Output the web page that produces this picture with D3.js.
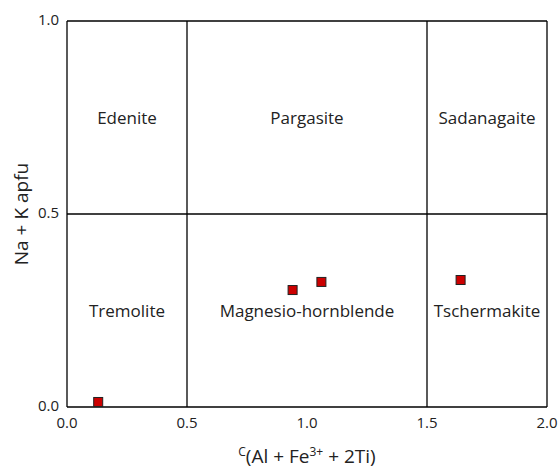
<!DOCTYPE html>
<html>
<head>
<meta charset="utf-8">
<script src="https://cdn.jsdelivr.net/npm/d3@7"></script>
<style>
  body { margin: 0; background: #fff; }
  text { font-family: "Open Sans", sans-serif; fill: #222; }
</style>
</head>
<body>
<script>
var width = 558,
	height = 470;

// boundaries of the classification fields
var xBounds = [0, 0.5, 1.5, 2.0],
	yBounds = [0, 0.5, 1.0];

var xTicks = [0, 0.5, 1.0, 1.5, 2.0],
	yTicks = [0, 0.5, 1.0];

// field names, row by row (upper row first)
var fieldNames = [
	['Edenite', 'Pargasite', 'Sadanagaite'],
	['Tremolite', 'Magnesio-hornblende', 'Tschermakite']
];

// analyses
var alFeTi = [0.13, 0.94, 1.06, 1.64],
	naK = [0.013, 0.303, 0.324, 0.329];

var margin = { top: 21, right: 11, bottom: 63, left: 67 };

var x = d3.scaleLinear()
	.domain([0, 2])
	.range([margin.left, width - margin.right]);

var y = d3.scaleLinear()
	.domain([0, 1])
	.range([height - margin.bottom, margin.top]);

var svg = d3.select('body')
	.append('svg')
	.attr('width', width)
	.attr('height', height);

// field boundaries
svg.append('g')
	.selectAll('line')
	.data(xBounds)
	.enter().append('line')
	.attr('x1', function(d) { return x(d); })
	.attr('x2', function(d) { return x(d); })
	.attr('y1', y(0))
	.attr('y2', y(1))
	.attr('stroke', '#000')
	.attr('stroke-width', 1.3);

svg.append('g')
	.selectAll('line')
	.data(yBounds)
	.enter().append('line')
	.attr('x1', x(0))
	.attr('x2', x(2))
	.attr('y1', function(d) { return y(d); })
	.attr('y2', function(d) { return y(d); })
	.attr('stroke', '#000')
	.attr('stroke-width', 1.3);

// tick labels
svg.append('g')
	.selectAll('text')
	.data(xTicks)
	.enter().append('text')
	.attr('x', function(d) { return x(d); })
	.attr('y', y(0) + 21)
	.attr('text-anchor', 'middle')
	.attr('font-size', 15)
	.text(function(d) { return d.toFixed(1); });

svg.append('g')
	.selectAll('text')
	.data(yTicks)
	.enter().append('text')
	.attr('x', x(0) - 8)
	.attr('y', function(d) { return y(d) + 4; })
	.attr('text-anchor', 'end')
	.attr('font-size', 15)
	.text(function(d) { return d.toFixed(1); });

// field labels at centres of each cell
fieldNames.forEach(function(row, i) {
	row.forEach(function(name, j) {
		var cx = (xBounds[j] + xBounds[j + 1]) / 2,
			cy = (yBounds[1 - i] + yBounds[2 - i]) / 2;
		svg.append('text')
			.attr('x', x(cx))
			.attr('y', y(cy) + 6)
			.attr('text-anchor', 'middle')
			.attr('font-size', 17)
			.text(name);
	});
});

// points
var s = 9;
svg.append('g')
	.selectAll('rect')
	.data(alFeTi)
	.enter().append('rect')
	.attr('x', function(d) { return x(d) - s / 2; })
	.attr('y', function(d, i) { return y(naK[i]) - s / 2; })
	.attr('width', s)
	.attr('height', s)
	.attr('fill', '#cc0000')
	.attr('stroke', '#222')
	.attr('stroke-width', 1);

// axis titles
var xt = svg.append('text')
	.attr('x', (x(0) + x(2)) / 2)
	.attr('y', 463)
	.attr('text-anchor', 'middle')
	.attr('font-size', 19);
xt.append('tspan').attr('font-size', 12).attr('dy', -7).text('C');
xt.append('tspan').attr('dy', 7).text('(Al + Fe');
xt.append('tspan').attr('font-size', 12).attr('dy', -7).text('3+');
xt.append('tspan').attr('dy', 7).text(' + 2Ti)');

svg.append('text')
	.attr('transform', 'translate(28,' + y(0.5) + ') rotate(-90)')
	.attr('text-anchor', 'middle')
	.attr('font-size', 19)
	.text('Na + K apfu');
</script>
</body>
</html>
